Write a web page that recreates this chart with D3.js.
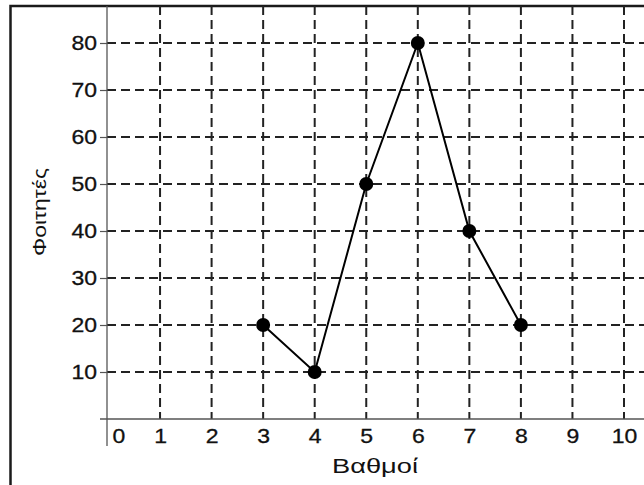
<!DOCTYPE html>
<html>
<head>
<meta charset="utf-8">
<script src="https://cdn.jsdelivr.net/npm/d3@7"></script>
<style>
  body { margin: 0; background: #fff; }
  text { font-family: "Liberation Sans", Arial, sans-serif; }
</style>
</head>
<body>
<svg width="644" height="485"></svg>
<script>
    // data
    const grades = [3, 4, 5, 6, 7, 8];
    const students = [20, 10, 50, 80, 40, 20];
    const xTicks = [0, 1, 2, 3, 4, 5, 6, 7, 8, 9, 10];
    const yTicks = [10, 20, 30, 40, 50, 60, 70, 80];
    const xTitle = "Βαθμοί";
    const yTitle = "Φοιτητές";

    const svg = d3.select("svg"),
          W = +svg.attr("width"),
          H = +svg.attr("height");

    const frameTop = 6, axisX = 107;
    const widen = 1.15; // the lettering in the picture is a bit wide

    const x = d3.scaleLinear().domain([0, 10]).range([108.5, 624]);
    const y = d3.scaleLinear().domain([0, 80]).range([419, 43]);

    // outer frame (runs off the right and bottom edge)
    svg.append("rect")
      .attr("x", 10.5).attr("y", frameTop)
      .attr("width", W + 20).attr("height", H + 20)
      .attr("fill", "none")
      .attr("stroke", "#1a1a1a")
      .attr("stroke-width", 2.5);

    // dashed grid
    const grid = svg.append("g")
      .attr("stroke", "#222")
      .attr("stroke-width", 2)
      .attr("stroke-dasharray", "9,5");

    grid.selectAll(".vg")
      .data(xTicks.filter(d => d > 0))
      .enter().append("line")
      .attr("x1", d => x(d)).attr("x2", d => x(d))
      .attr("y1", frameTop).attr("y2", y(0));

    grid.selectAll(".hg")
      .data(yTicks)
      .enter().append("line")
      .attr("x1", axisX).attr("x2", W)
      .attr("y1", d => y(d)).attr("y2", d => y(d));

    // y axis
    const yAxis = svg.append("g")
      .attr("transform", `translate(${axisX},0)`)
      .call(d3.axisLeft(y).tickValues(yTicks).tickSize(7).tickPadding(3));
    yAxis.select(".domain").remove();
    yAxis.selectAll("line").attr("stroke", "#555").attr("stroke-width", 1.2);
    yAxis.selectAll("text")
      .style("font-size", "20px").attr("fill", "#111")
      .attr("stroke", "#111").attr("stroke-width", 0.3)
      .attr("x", 0)
      .attr("transform", `translate(-10,0) scale(${widen},1)`);

    svg.append("line")
      .attr("x1", axisX).attr("x2", axisX)
      .attr("y1", frameTop).attr("y2", 446)
      .attr("stroke", "#555").attr("stroke-width", 1.3);

    // x axis
    const xAxis = svg.append("g")
      .attr("transform", `translate(0,${y(0)})`)
      .call(d3.axisBottom(x).tickValues(xTicks).tickSize(0).tickPadding(10));
    xAxis.select(".domain").remove();
    xAxis.selectAll("text")
      .style("font-size", "20px").attr("fill", "#111")
      .attr("stroke", "#111").attr("stroke-width", 0.3)
      .attr("transform", d => `translate(${d === 0 ? 10 : 0},0) scale(${widen},1)`);

    svg.append("line")
      .attr("x1", 100).attr("x2", W)
      .attr("y1", y(0)).attr("y2", y(0))
      .attr("stroke", "#555").attr("stroke-width", 1.3);

    // axis titles
    svg.append("text")
      .attr("x", 375).attr("y", 473)
      .attr("text-anchor", "middle")
      .attr("textLength", 86)
      .attr("lengthAdjust", "spacingAndGlyphs")
      .style("font-size", "20px")
      .attr("fill", "#111")
      .text(xTitle);

    svg.append("text")
      .attr("transform", "rotate(-90)")
      .attr("x", -212).attr("y", 46)
      .attr("text-anchor", "middle")
      .attr("textLength", 88)
      .attr("lengthAdjust", "spacingAndGlyphs")
      .style("font-size", "19px")
      .attr("fill", "#111")
      .text(yTitle);

    // the polygon line and points
    const pts = grades.map((g, i) => ({g: g, s: students[i]}));

    svg.append("path")
      .datum(pts)
      .attr("fill", "none")
      .attr("stroke", "#000")
      .attr("stroke-width", 2)
      .attr("d", d3.line().x(d => x(d.g)).y(d => y(d.s)));

    svg.selectAll(".dot")
      .data(pts)
      .enter().append("circle")
      .attr("cx", d => x(d.g))
      .attr("cy", d => y(d.s))
      .attr("r", 7)
      .attr("fill", "#000");
</script>
</body>
</html>
